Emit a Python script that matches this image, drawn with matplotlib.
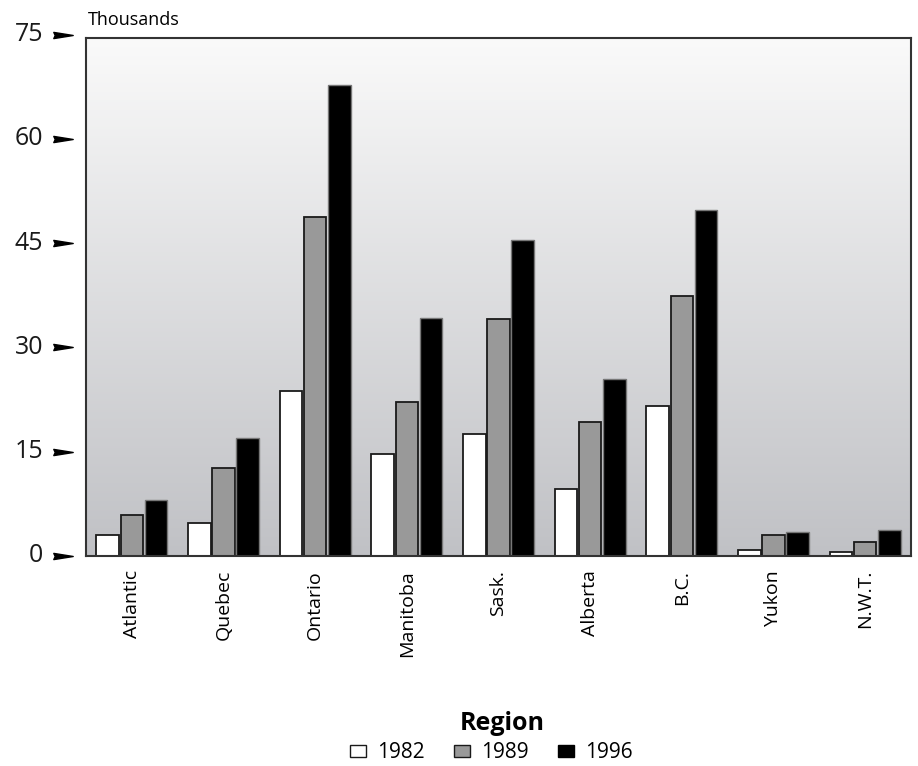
import numpy as np
import matplotlib
matplotlib.use("Agg")
import matplotlib.pyplot as plt
from matplotlib.path import Path
from matplotlib.patches import Patch
import matplotlib.transforms as mtransforms

plt.rcParams['font.family'] = ['Open Sans', 'DejaVu Sans']

regions = ["Atlantic", "Quebec", "Ontario", "Manitoba", "Sask.", "Alberta", "B.C.", "Yukon", "N.W.T."]
years = ["1982", "1989", "1996"]
v1982 = [3.05, 4.8, 23.8, 14.6, 17.6, 9.7, 21.6, 0.85, 0.55]
v1989 = [5.9, 12.6, 48.7, 22.2, 34.1, 19.3, 37.4, 3.0, 2.0]
v1996 = [8.1, 17.0, 67.8, 34.2, 45.5, 25.4, 49.8, 3.4, 3.8]
yticks = [0, 15, 30, 45, 60, 75]

W, H = 918, 766
fig = plt.figure(figsize=(W / 100, H / 100), dpi=100)
ax = fig.add_axes([86 / W, 1 - 556 / H, 825 / W, 518 / H])

ymax = 74.5
n = len(regions)

# gradient background (light at top, darker at bottom)
grad = np.linspace(0, 1, 256).reshape(-1, 1)
top = np.array([250, 250, 250]) / 255
bot = np.array([192, 193, 197]) / 255
img = top[None, None, :] * (1 - grad[:, :, None]) + bot[None, None, :] * grad[:, :, None]
ax.imshow(img, extent=[-0.5, n - 0.5, 0, ymax], origin='upper', aspect='auto', zorder=0)
ax.set_xlim(-0.5, n - 0.5)
ax.set_ylim(0, ymax)

x = np.arange(n)
bw = 0.245
off = 0.263
ax.bar(x - off, v1982, bw, color='white', edgecolor='#1a1a1a', linewidth=1.3, zorder=2)
ax.bar(x, v1989, bw, color='#999999', edgecolor='#1a1a1a', linewidth=1.3, zorder=2)
ax.bar(x + off, v1996, bw, color='black', edgecolor='#777777', linewidth=1.0, zorder=2)

for s in ax.spines.values():
    s.set_color('#333333')
    s.set_linewidth(1.5)

ax.set_xticks(x)
ax.set_xticklabels(regions, rotation=90, fontsize=14)
ax.tick_params(axis='x', length=0, pad=10)
ax.set_yticks([])

# y tick labels with arrow markers
arrow = Path([(-1, -0.32), (1, 0), (-1, 0.32), (-0.85, 0), (-1, -0.32)],
             [Path.MOVETO, Path.LINETO, Path.LINETO, Path.LINETO, Path.CLOSEPOLY])
trans = mtransforms.blended_transform_factory(ax.transAxes, ax.transData)
for t in yticks:
    ax.plot([(62.5 - 86) / 825], [t], marker=arrow, markersize=14,
            color='black', transform=trans, clip_on=False, zorder=5)
    ax.text((43 - 86) / 825, t, str(t), transform=trans,
            ha='right', va='center', fontsize=18, color='#1a1a1a')

fig.text(88 / W, 1 - 20 / H, "Thousands", fontsize=13, ha='left', va='center')

fig.text(502 / W, 1 - 723 / H, "Region", fontsize=18, fontweight='bold',
         ha='center', va='center')
handles = [Patch(facecolor='white', edgecolor='#1a1a1a', linewidth=1.0),
           Patch(facecolor='#999999', edgecolor='#1a1a1a', linewidth=1.0),
           Patch(facecolor='black', edgecolor='black', linewidth=1.0)]
leg = fig.legend(handles, years, loc='center', bbox_to_anchor=(491 / W, 1 - 753 / H),
                 ncol=3, frameon=False, fontsize=15,
                 handlelength=0.8, handleheight=0.45, handletextpad=0.5,
                 columnspacing=1.4, borderpad=0, labelspacing=0.2)

fig.savefig("out.png", dpi=100)
